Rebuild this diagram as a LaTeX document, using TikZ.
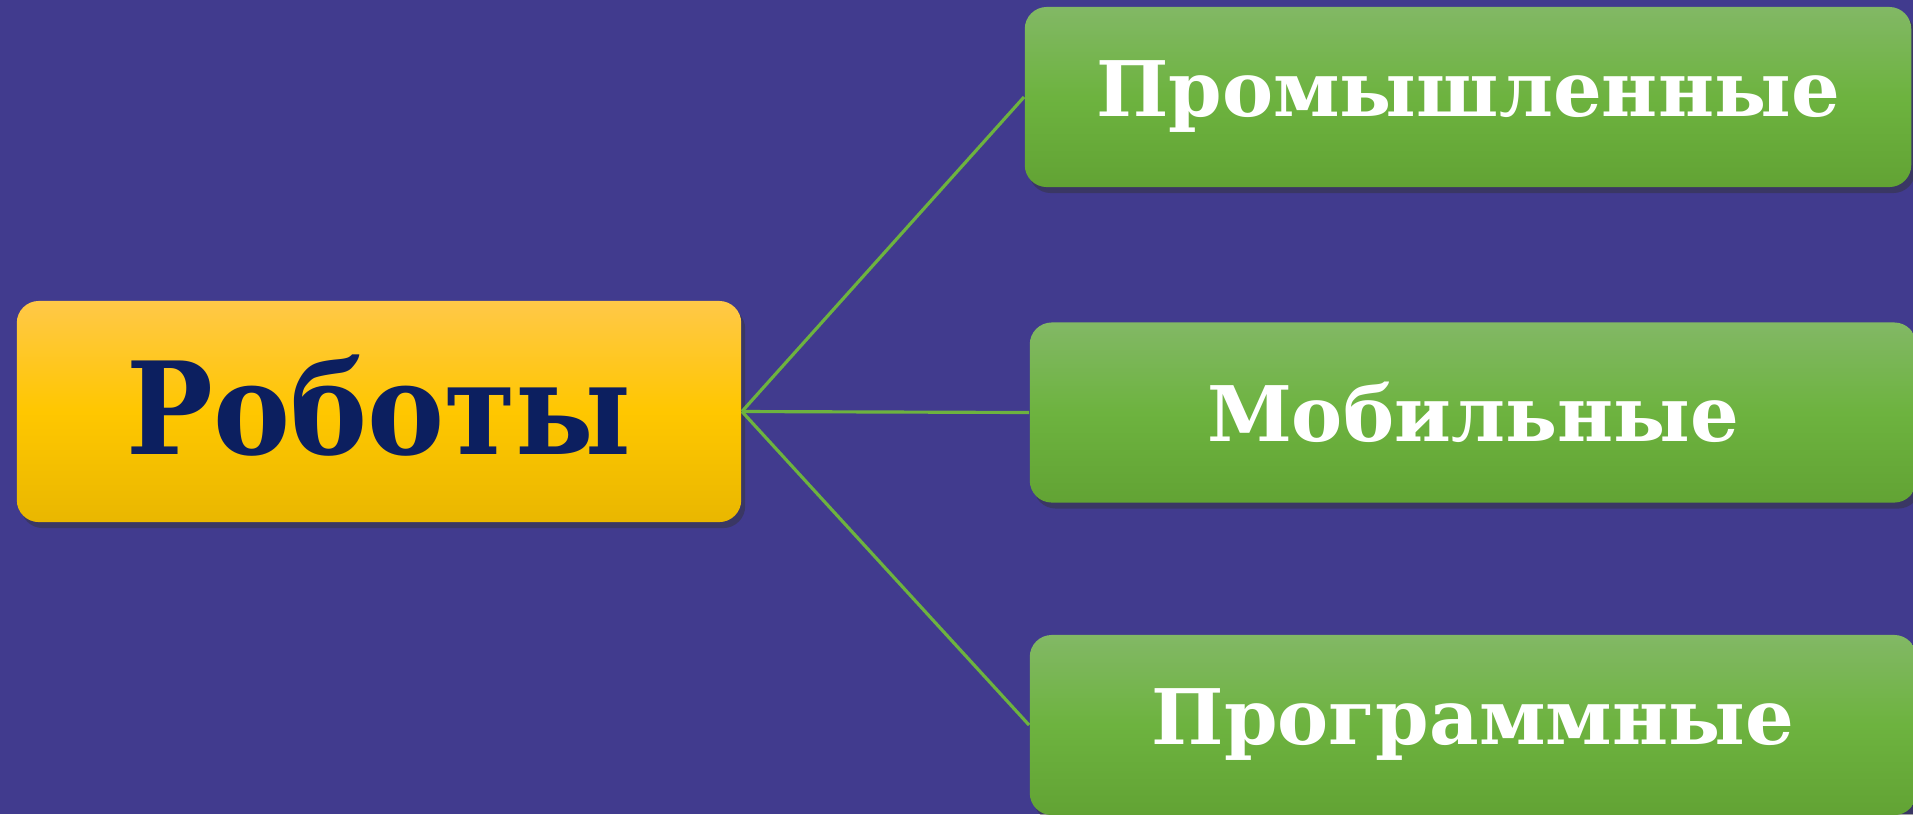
\documentclass[tikz,border=0pt]{standalone}
\usepackage{fontspec}
\setmainfont{DejaVu Serif}
\newfontfamily\condslab{DejaVu Serif Condensed}
\usepackage{tikz}
\usetikzlibrary{shadows}
\definecolor{robobg}{HTML}{413B8E}
\definecolor{roboink}{HTML}{0C1F5F}
\definecolor{roboline}{HTML}{6DB33F}
\definecolor{rootTop}{HTML}{FFC848}
\definecolor{rootMid}{HTML}{FFC700}
\definecolor{rootBot}{HTML}{E9B700}
\definecolor{kindTop}{HTML}{82B865}
\definecolor{kindMid}{HTML}{6DB33F}
\definecolor{kindBot}{HTML}{62A334}

\begin{document}
\begin{tikzpicture}[
    x=0.01cm, y=-0.01cm,
    box/.style={rectangle, rounded corners=0.22cm, inner sep=0pt,
        drop shadow={shadow xshift=0.04cm, shadow yshift=-0.06cm, opacity=0.45, fill=black!80}},
    rootbox/.style={box, minimum width=7.24cm, minimum height=2.21cm,
        top color=rootTop, bottom color=rootBot, middle color=rootMid,
        text=roboink, font=\condslab\fontsize{36.5}{42}\selectfont\bfseries},
    kindbox/.style={box, minimum width=8.86cm, minimum height=1.80cm,
        top color=kindTop, bottom color=kindBot, middle color=kindMid,
        text=white, font=\fontsize{21.8}{26}\selectfont\bfseries},
    link/.style={draw=roboline, line width=0.9pt}
]
\useasboundingbox (0,0) rectangle (1913,814);
\fill[robobg] (0,0) rectangle (1913,814);

\node[rootbox] (robots) at (379,411.5) {\raisebox{4pt}{Роботы}};
\node[kindbox] (industrial) at (1468,97) {Промышленные};
\node[kindbox] (mobile) at (1473,412.5) {Мобильные};
\node[kindbox] (software) at (1473,725) {Программные};

\draw[link] (robots.east) -- (industrial.west);
\draw[link] (robots.east) -- (mobile.west);
\draw[link] (robots.east) -- (software.west);
\end{tikzpicture}
\end{document}
